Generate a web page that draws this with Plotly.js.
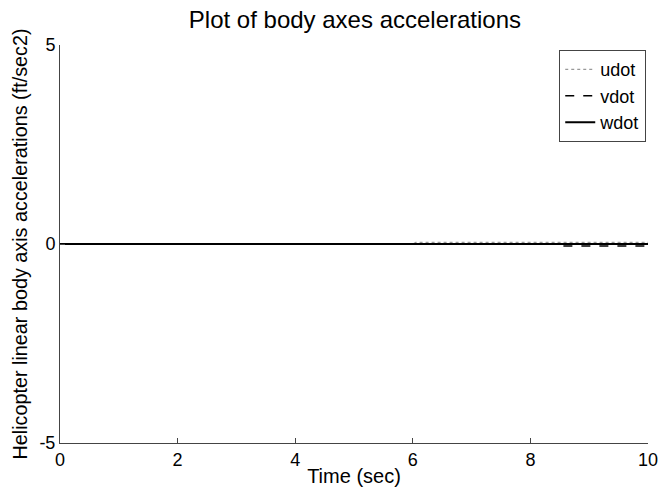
<!DOCTYPE html>
<html>
<head>
<meta charset="utf-8">
<script src="https://cdn.plot.ly/plotly-3.0.1.min.js"></script>
<style>html,body{margin:0;padding:0;background:#fff}#chart{width:661px;height:499px}</style>
</head>
<body>
<div id="chart"></div>
<script>
const time = [0, 1, 2, 3, 4, 5, 6, 6.05, 7, 8, 8.5, 8.55, 9, 9.5, 10];
const udot = [0, 0, 0, 0, 0, 0, 0, 0.04, 0.04, 0.04, 0.04, 0.04, 0.04, 0.04, 0.04];
const vdot = [0, 0, 0, 0, 0, 0, 0, 0, 0, 0, 0, -0.05, -0.05, -0.05, -0.05];
const wdot = [0, 0, 0, 0, 0, 0, 0, 0, 0, 0, 0, 0, 0, 0, 0];
const seriesNames = ['udot', 'vdot', 'wdot'];
const xTicks = [0, 2, 4, 6, 8, 10];
const yTicks = [-5, 0, 5];
const yTickText = ['-5', '0', '5'];

const traces = [
  {x: time, y: udot, name: seriesNames[0], mode: 'lines', line: {color: '#999', width: 1.2, dash: 'dot'}},
  {x: time, y: vdot, name: seriesNames[1], mode: 'lines', line: {color: '#000', width: 1.3, dash: 'dash'}},
  {x: time, y: wdot, name: seriesNames[2], mode: 'lines', line: {color: '#000', width: 2}}
];

const layout = {
  width: 661, height: 499,
  margin: {l: 60, r: 13, t: 45, b: 56},
  paper_bgcolor: '#fff', plot_bgcolor: '#fff',
  font: {family: 'Liberation Sans, Arial, sans-serif', color: '#000', size: 18},
  title: {text: 'Plot of body axes accelerations', font: {size: 24}, x: 0.537, xanchor: 'center', y: 0.96, yanchor: 'middle'},
  xaxis: {
    range: [0, 10], tickvals: xTicks, ticks: 'inside', ticklen: 5, tickcolor: '#444',
    showline: true, linecolor: '#444', linewidth: 1, showgrid: false, zeroline: false,
    tickfont: {size: 18}, ticklabelstandoff: 0,
    title: {text: 'Time (sec)', font: {size: 20}, standoff: 0}
  },
  yaxis: {
    range: [-5, 5], tickvals: yTicks, ticktext: yTickText, ticks: 'inside', ticklen: 5, tickcolor: '#444',
    showline: true, linecolor: '#444', linewidth: 1, showgrid: false, zeroline: false,
    tickfont: {size: 18},
    title: {text: 'Helicopter linear body axis accelerations (ft/sec2)', font: {size: 19.8}, standoff: 6}
  },
  legend: {
    x: 0.997, y: 0.987, xanchor: 'right', yanchor: 'top',
    bordercolor: '#444', borderwidth: 1, bgcolor: '#fff',
    font: {size: 18}, itemwidth: 30, tracegroupgap: 0
  },
  showlegend: true
};

Plotly.newPlot('chart', traces, layout, {displayModeBar: false, staticPlot: true});
</script>
</body>
</html>
